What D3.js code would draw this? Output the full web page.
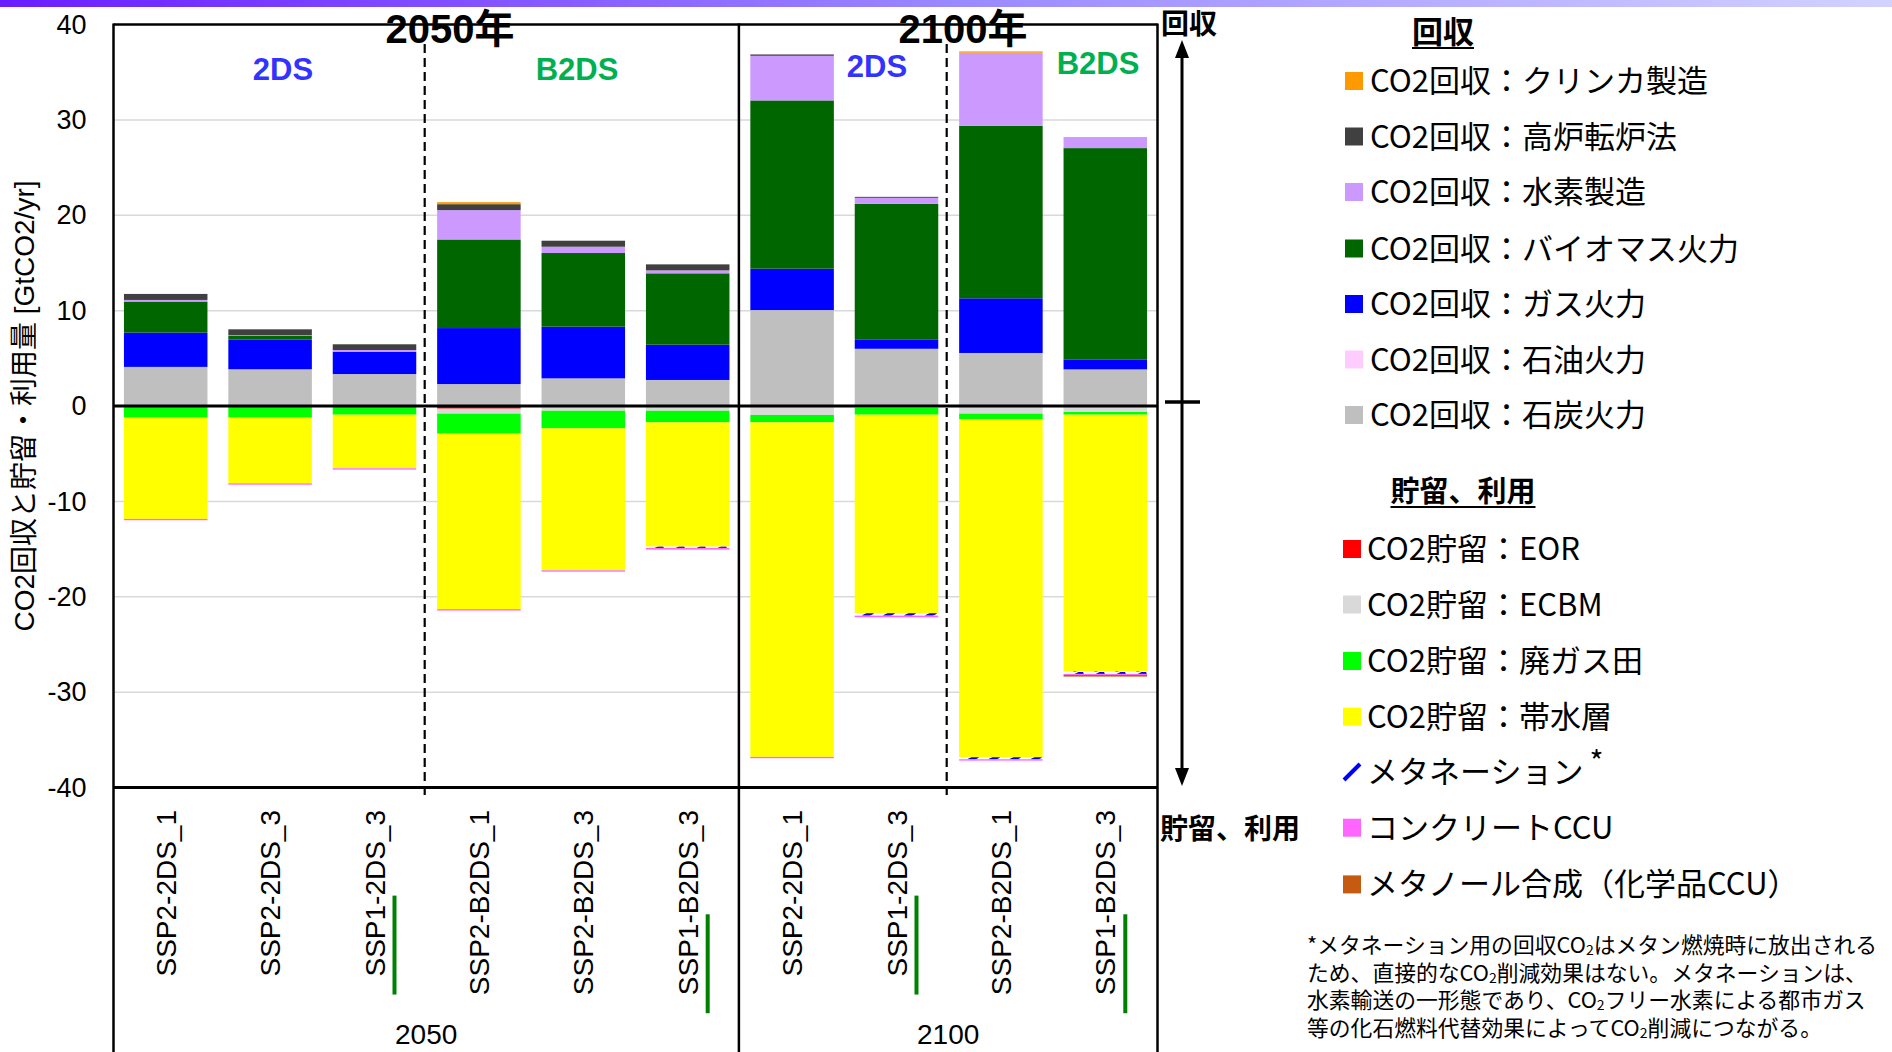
<!DOCTYPE html>
<html><head><meta charset="utf-8">
<script src="https://cdn.jsdelivr.net/npm/d3@7"></script>
<style>body{margin:0;background:#fff} svg{display:block}</style>
</head><body>
<script>
// ---------------- data ----------------
const years = ["2050","2050","2050","2050","2050","2050","2100","2100","2100","2100"];
const categories = ["SSP2-2DS_1","SSP2-2DS_3","SSP1-2DS_3","SSP2-B2DS_1","SSP2-B2DS_3","SSP1-B2DS_3",
                    "SSP2-2DS_1","SSP1-2DS_3","SSP2-B2DS_1","SSP1-B2DS_3"];
// capture (positive, GtCO2/yr)
const coal         = [4.1, 3.85, 3.35, 2.3, 2.9, 2.73, 10.06, 6.0, 5.56, 3.84];
const oil          = [0, 0, 0, 0, 0, 0, 0, 0, 0, 0];
const gas          = [3.6, 3.1, 2.35, 5.87, 5.42, 3.7, 4.34, 0.94, 5.73, 1.05];
const biomass      = [3.25, 0.42, 0, 9.29, 7.72, 7.48, 17.64, 14.25, 18.09, 22.15];
const hydrogen     = [0.17, 0.05, 0.17, 3.08, 0.66, 0.31, 4.68, 0.64, 7.66, 1.16];
const blastFurnace = [0.63, 0.62, 0.6, 0.62, 0.63, 0.63, 0.14, 0.1, 0, 0];
const clinker      = [0, 0, 0, 0.21, 0, 0, 0, 0, 0.14, 0];
// storage / utilisation (negative)
const eor          = [0, 0, 0, -0.28, 0, 0, 0, 0, 0, 0];
const ecbm         = [0, 0, 0, -0.52, -0.5, -0.5, -0.94, -0.2, -0.8, -0.63];
const depletedGas  = [-1.22, -1.22, -0.91, -2.1, -1.84, -1.21, -0.77, -0.71, -0.6, -0.28];
const aquifer      = [-10.62, -6.89, -5.62, -18.4, -14.89, -13.04, -35.08, -20.82, -35.43, -26.94];
const methanation  = [0, 0, 0, 0, 0, -0.13, 0, -0.25, -0.21, -0.24];
const concrete     = [-0.14, -0.14, -0.14, -0.15, -0.14, -0.18, -0.14, -0.17, -0.14, -0.11];
const methanol     = [0, 0, 0, 0, 0, 0, 0, 0, 0, -0.17];

const yTicks = [40, 30, 20, 10, 0, -10, -20, -30, -40];
const scenarioLabels = ["2DS", "B2DS", "2DS", "B2DS"];
const yearTitles = ["2050年", "2100年"];

const captureLegend = ["CO2回収：クリンカ製造","CO2回収：高炉転炉法","CO2回収：水素製造","CO2回収：バイオマス火力",
                       "CO2回収：ガス火力","CO2回収：石油火力","CO2回収：石炭火力"];
const storageLegend = ["CO2貯留：EOR","CO2貯留：ECBM","CO2貯留：廃ガス田","CO2貯留：帯水層",
                       "メタネーション","コンクリートCCU","メタノール合成（化学品CCU）"];

// ---------------- build table ----------------
const seriesData = {coal, oil, gas, biomass, hydrogen, blastFurnace, clinker,
                    eor, ecbm, depletedGas, aquifer, methanation, concrete, methanol};
const keys = ["coal","oil","gas","biomass","hydrogen","blastFurnace","clinker",
              "eor","ecbm","depletedGas","aquifer","methanation","concrete","methanol"];
const colors = {coal:"#bfbfbf", oil:"#ffccff", gas:"#0000ff", biomass:"#006600", hydrogen:"#cc99ff",
  blastFurnace:"#404040", clinker:"#ff9900", eor:"#ff0000", ecbm:"#d9d9d9", depletedGas:"#00ff00",
  aquifer:"#ffff00", methanation:"url(#methPat)", concrete:"#ff66ff", methanol:"#c55a11"};
const table = categories.map((c, i) => {
  const row = {id: years[i] + "|" + c};
  keys.forEach(k => row[k] = seriesData[k][i]);
  return row;
});
const ids = table.map(d => d.id);

// ---------------- svg ----------------
const W = 1892, H = 1052;
const svg = d3.select("body").append("svg").attr("width", W).attr("height", H);
const defs = svg.append("defs");
const grad = defs.append("linearGradient").attr("id","topGrad").attr("x1","0").attr("x2","1").attr("y1","0").attr("y2","0");
grad.append("stop").attr("offset","0").attr("stop-color","#6a1cff");
grad.append("stop").attr("offset","0.5").attr("stop-color","#9a88ff");
grad.append("stop").attr("offset","1").attr("stop-color","#d2d2ff");
const pat = defs.append("pattern").attr("id","methPat").attr("patternUnits","userSpaceOnUse")
  .attr("width",21).attr("height",6);
pat.append("rect").attr("width",21).attr("height",6).attr("fill","#ffffff");
pat.append("path").attr("d","M2,5 L12,0").attr("stroke","#0000ff").attr("stroke-width",4);

svg.append("rect").attr("x",0).attr("y",0).attr("width",W).attr("height",7).attr("fill","url(#topGrad)");

const pL = 113.5, pR = 1157.5, pT = 24.5, pB = 787.5;
const x = d3.scaleBand().domain(ids).range([pL, pR]).paddingInner(0.2).paddingOuter(0.1);
const y = d3.scaleLinear().domain([-40, 40]).range([pB, pT]);
const bw = x.bandwidth(), step = x.step();

const JP = "'Noto Sans CJK JP', sans-serif";
const LAT = "'Liberation Sans', Arial, 'Noto Sans CJK JP', sans-serif";

// gridlines
svg.append("g").selectAll("line").data(yTicks.filter(t => t !== 0 && Math.abs(t) !== 40)).join("line")
  .attr("x1", pL).attr("x2", pR).attr("y1", d => y(d)).attr("y2", d => y(d))
  .attr("stroke", "#d9d9d9").attr("stroke-width", 1.5);

// bars
const stack = d3.stack().keys(keys).offset(d3.stackOffsetDiverging);
const layers = stack(table);
svg.append("g").selectAll("g").data(layers).join("g")
  .attr("fill", d => colors[d.key])
  .selectAll("rect").data(d => d).join("rect")
  .attr("x", d => x(d.data.id)).attr("width", bw)
  .attr("y", d => y(d[1])).attr("height", d => Math.max(0, y(d[0]) - y(d[1])));

// axis
const ax = svg.append("g").attr("transform", `translate(${pL},0)`)
  .call(d3.axisLeft(y).tickValues(yTicks).tickSize(0).tickPadding(27).tickFormat(d => String(d)));
ax.select(".domain").remove();
ax.selectAll("text").attr("font-family", LAT).attr("font-size", 27).attr("fill", "#000");

// frame
const sepX = x(ids[6]) - step * 0.1 - 1;
const fr = svg.append("g").attr("stroke", "#000").attr("fill", "none");
fr.append("line").attr("x1", pL).attr("x2", pR).attr("y1", pT).attr("y2", pT).attr("stroke-width", 2.5);
fr.append("line").attr("x1", pL).attr("x2", pR).attr("y1", y(0)).attr("y2", y(0)).attr("stroke-width", 3);
fr.append("line").attr("x1", pL).attr("x2", pR).attr("y1", pB).attr("y2", pB).attr("stroke-width", 3);
[pL, sepX, pR].forEach(xx => fr.append("line").attr("x1", xx).attr("x2", xx).attr("y1", pT - 1).attr("y2", H).attr("stroke-width", 2.5));
// dashed separators
[3, 8].forEach(i => {
  const xx = x(ids[i]) - step * 0.1 - 2;
  fr.append("line").attr("x1", xx).attr("x2", xx).attr("y1", 44).attr("y2", 800)
    .attr("stroke-width", 2.2).attr("stroke-dasharray", "9,5");
});

// titles
const sec2050 = (pL + sepX) / 2, sec2100 = (sepX + pR) / 2;
svg.append("text").attr("x", 450).attr("y", 43).attr("text-anchor", "middle")
  .attr("font-family", LAT).attr("font-weight", "bold").attr("font-size", 40).text(yearTitles[0]);
svg.append("text").attr("x", 963).attr("y", 43).attr("text-anchor", "middle")
  .attr("font-family", LAT).attr("font-weight", "bold").attr("font-size", 40).text(yearTitles[1]);
const scenPos = [[283, 80, "#3333ff"], [577, 80, "#00b050"], [877, 77, "#3333ff"], [1098, 74, "#00b050"]];
scenarioLabels.forEach((s, i) => svg.append("text").attr("x", scenPos[i][0]).attr("y", scenPos[i][1])
  .attr("text-anchor", "middle").attr("font-family", LAT).attr("font-weight", "bold")
  .attr("font-size", 31).attr("fill", scenPos[i][2]).text(s));

// category labels
table.forEach((d, i) => {
  const cx = x(d.id) + bw / 2 + 10;
  const t = svg.append("text").attr("transform", `translate(${cx},810) rotate(-90)`)
    .attr("text-anchor", "end").attr("font-family", LAT).attr("font-size", 28).text(categories[i]);
  if (categories[i].startsWith("SSP1")) {
    const L = t.node().getComputedTextLength();
    const s = t.node().getSubStringLength(0, 5);
    svg.append("line").attr("x1", cx + 10).attr("x2", cx + 10)
      .attr("y1", 810 + L + 18).attr("y2", 810 + L - s)
      .attr("stroke", "#008000").attr("stroke-width", 4);
  }
});
svg.append("text").attr("x", sec2050).attr("y", 1044).attr("text-anchor", "middle")
  .attr("font-family", LAT).attr("font-size", 28).text(years[0]);
svg.append("text").attr("x", sec2100).attr("y", 1044).attr("text-anchor", "middle")
  .attr("font-family", LAT).attr("font-size", 28).text(years[6]);

// y axis title
svg.append("text").attr("transform", `translate(34,${(pT + pB) / 2}) rotate(-90)`)
  .attr("text-anchor", "middle").attr("font-family", LAT).attr("font-size", 28)
  .text("CO2回収と貯留・利用量 [GtCO2/yr]");

// right arrow
const ar = svg.append("g");
ar.append("line").attr("x1", 1182).attr("x2", 1182).attr("y1", 52).attr("y2", 774).attr("stroke", "#000").attr("stroke-width", 3);
ar.append("path").attr("d", "M1182,40 L1175,58 L1189,58 Z").attr("fill", "#000");
ar.append("path").attr("d", "M1182,786 L1175,768 L1189,768 Z").attr("fill", "#000");
ar.append("line").attr("x1", 1165).attr("x2", 1200).attr("y1", 402).attr("y2", 402).attr("stroke", "#000").attr("stroke-width", 3.5);
svg.append("text").attr("x", 1161).attr("y", 34).attr("font-family", JP).attr("font-weight", "bold").attr("font-size", 28).text("回収");
svg.append("text").attr("x", 1160).attr("y", 839).attr("font-family", JP).attr("font-weight", "bold").attr("font-size", 28).text("貯留、利用");

// legend
function header(txt, cx, by, size) {
  const t = svg.append("text").attr("x", cx).attr("y", by).attr("text-anchor", "middle")
    .attr("font-family", JP).attr("font-weight", "bold").attr("font-size", size).text(txt);
  const w = t.node().getComputedTextLength();
  svg.append("line").attr("x1", cx - w / 2).attr("x2", cx + w / 2).attr("y1", by + 5).attr("y2", by + 5)
    .attr("stroke", "#000").attr("stroke-width", 2);
}
header("回収", 1443, 43, 31);
header("貯留、利用", 1463, 502, 29);

const capKeysTopDown = ["clinker","blastFurnace","hydrogen","biomass","gas","oil","coal"];
const capRowY = [81, 136.5, 192, 248.5, 304, 359.5, 415];
capKeysTopDown.forEach((k, i) => {
  svg.append("rect").attr("x", 1345).attr("y", capRowY[i] - 9).attr("width", 18).attr("height", 18).attr("fill", colors[k]);
  svg.append("text").attr("x", 1370).attr("y", capRowY[i] + 11).attr("font-family", JP).attr("font-size", 31).text(captureLegend[i]);
});
const stoKeys = ["eor","ecbm","depletedGas","aquifer","methanation","concrete","methanol"];
const stoRowY = [549, 604.5, 661, 716.7, 772, 827.7, 884.4];
stoKeys.forEach((k, i) => {
  if (k === "methanation") {
    svg.append("path").attr("d", `M1344,${stoRowY[i] + 8} L1360,${stoRowY[i] - 8}`).attr("stroke", "#0000ff").attr("stroke-width", 4);
  } else {
    svg.append("rect").attr("x", 1343).attr("y", stoRowY[i] - 9).attr("width", 18).attr("height", 18).attr("fill", colors[k]);
  }
  const t = svg.append("text").attr("x", 1367).attr("y", stoRowY[i] + 11).attr("font-family", JP).attr("font-size", 31).text(storageLegend[i]);
  if (k === "methanation") t.append("tspan").attr("dx", 6).attr("dy", -10).attr("font-size", 30).text("*");
});

// footnote
const foot = [
  ["*メタネーション用の回収CO", "2", "はメタン燃焼時に放出される"],
  ["ため、直接的なCO", "2", "削減効果はない。メタネーションは、"],
  ["水素輸送の一形態であり、CO", "2", "フリー水素による都市ガス"],
  ["等の化石燃料代替効果によってCO", "2", "削減につながる。"]
];
foot.forEach((parts, i) => {
  const t = svg.append("text").attr("x", 1307).attr("y", 953 + i * 27.7).attr("font-family", JP).attr("font-size", 21.8);
  t.append("tspan").text(parts[0]);
  t.append("tspan").attr("font-size", 14).attr("dy", 2).text(parts[1]);
  t.append("tspan").attr("dy", -2).text(parts[2]);
});
</script>
</body></html>
